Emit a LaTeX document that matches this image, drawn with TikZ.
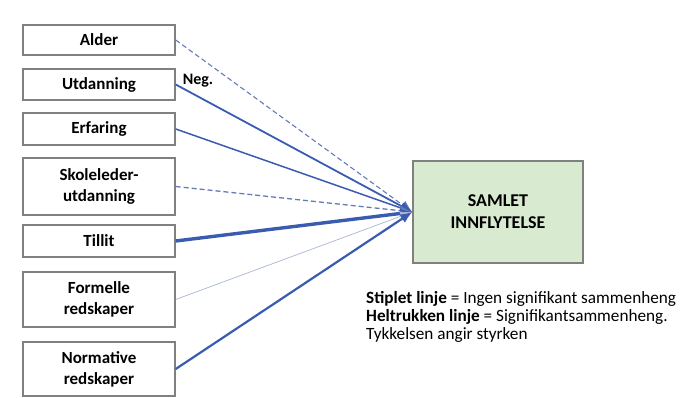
\documentclass[tikz,border=0pt]{standalone}
\usepackage{fontspec}
\setmainfont{Carlito}
\usetikzlibrary{arrows.meta}
\definecolor{kantgraa}{RGB}{128,128,128}
\definecolor{linjeblaa}{RGB}{58,92,176}
\definecolor{stipleblaa}{RGB}{100,122,185}
\definecolor{svakblaa}{RGB}{170,180,212}
\definecolor{samletgronn}{RGB}{216,234,208}
\begin{document}
\begin{tikzpicture}
[x=1pt,y=-1pt,
  boxdecorate/.style={shape=rectangle,draw=kantgraa,line width=1.4pt,fill=white,
    minimum width=152pt,inner sep=0pt,align=center,
    font=\bfseries\fontsize{17}{21}\selectfont},%
  linedecorate/.style={-{Latex[length=12pt,width=10pt]},draw=linjeblaa},%
  dashdecorate/.style={linedecorate,draw=stipleblaa,dashed,dash pattern=on 5pt off 3pt},%
  faintdecorate/.style={linedecorate,draw=svakblaa},%
  scale=1]
\useasboundingbox (0,0) rectangle (681,398);
%% variable boxes on the left
\foreach \nodename/\y/\h/\tekst in {
  alder/40/30/Alder,
  utdanning/84.5/31/Utdanning,
  erfaring/129/32/Erfaring,
  skoleleder/186.5/57/{Skoleleder-\\utdanning},
  tillit/241/32/Tillit,
  formelle/299.5/55/{Formelle\\redskaper},
  normative/369/54/{Normative\\redskaper}} {
  \node (\nodename) at (99,\y) [boxdecorate,minimum height=\h pt] {\tekst};
}
%% outcome box
\node (samlet) at (498,212) [boxdecorate,fill=samletgronn,minimum width=170pt,
  minimum height=102pt,font=\bfseries\fontsize{18}{22}\selectfont] {SAMLET\\INNFLYTELSE};
\node (neg) at (198,81) [font=\bfseries\fontsize{16}{18}\selectfont] {Neg.};
%% legend
\node (forklaring) at (366,291) [anchor=north west,align=left,inner sep=0pt,
  font=\fontsize{17.2}{18}\selectfont]
  {\textbf{Stiplet linje} = Ingen signifikant sammenheng\\
   \textbf{Heltrukken linje} = Signifikantsammenheng.\\
   Tykkelsen angir styrken};
%% edges, width gives the strength
\path
\foreach \startnode/\linestyle/\bredde in {
  alder/dashdecorate/1.1, utdanning/linedecorate/1.8, erfaring/linedecorate/1.5,
  skoleleder/dashdecorate/1.3, tillit/linedecorate/3.4,
  formelle/faintdecorate/0.7, normative/linedecorate/2.2} {
  (\startnode.east) edge[\linestyle,line width=\bredde pt] (samlet.west)
};
\end{tikzpicture}
\end{document}
